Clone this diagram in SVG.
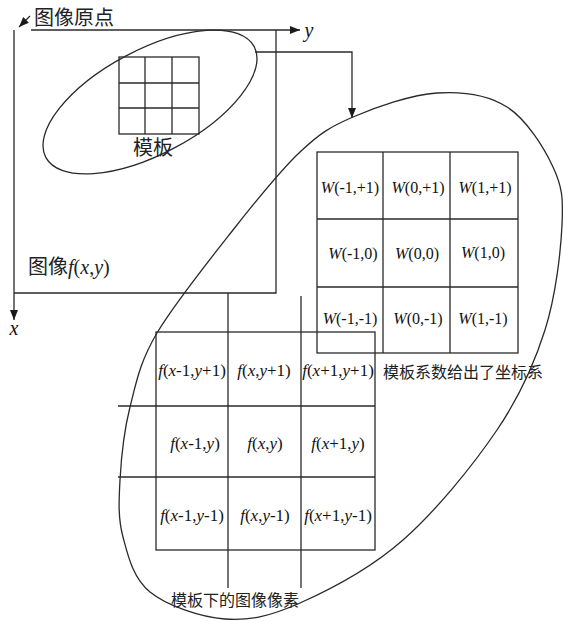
<svg xmlns="http://www.w3.org/2000/svg" width="563" height="622" viewBox="0 0 563 622">
<style>
.ln{fill:none;stroke:#2a2a2a;stroke-width:1.3}
.cn{font-family:"Noto Sans CJK SC","Noto Sans",sans-serif;fill:#222}
.m{font-family:"Liberation Serif","Times New Roman",serif;font-size:16px;fill:#111;text-anchor:middle}
.f{font-family:"Liberation Serif","Times New Roman",serif;font-size:17px;fill:#111;text-anchor:middle}
.i{font-style:italic}
</style>
<defs>
<marker id="ah" viewBox="0 0 10 10" refX="10" refY="5" markerWidth="10" markerHeight="10" markerUnits="userSpaceOnUse" orient="auto">
<path d="M0,1 L10,5 L0,9 Z" fill="#1a1a1a"/>
</marker>
</defs>
<rect width="563" height="622" fill="#fff"/>

<g id="image">
<line class="ln" x1="31" y1="30" x2="300" y2="30" marker-end="url(#ah)"/>
<line class="ln" x1="14" y1="30" x2="14" y2="320" marker-end="url(#ah)"/>
<polyline class="ln" points="276,30 276,293 14,293"/>
<line class="ln" x1="30" y1="16" x2="19" y2="27" marker-end="url(#ah)"/>
<text class="cn" x="34" y="25" font-size="20">图像原点</text>
<text class="m i" x="309" y="37" font-size="20" style="font-size:20px">y</text>
<text class="m i" x="14" y="335" style="font-size:20px">x</text>
<text class="cn" x="28" y="274" font-size="20">图像<tspan font-family="Liberation Serif,serif" font-style="italic">f</tspan><tspan font-family="Liberation Serif,serif">(</tspan><tspan font-family="Liberation Serif,serif" font-style="italic">x</tspan><tspan font-family="Liberation Serif,serif">,</tspan><tspan font-family="Liberation Serif,serif" font-style="italic">y</tspan><tspan font-family="Liberation Serif,serif">)</tspan></text>
</g>

<g id="template">
<ellipse class="ln" cx="150" cy="102" rx="118" ry="52" transform="rotate(-28 150 102)"/>
<rect class="ln" x="119" y="57" width="80" height="77"/>
<line class="ln" x1="145" y1="57" x2="145" y2="134"/>
<line class="ln" x1="172" y1="57" x2="172" y2="134"/>
<line class="ln" x1="119" y1="83" x2="199" y2="83"/>
<line class="ln" x1="119" y1="108" x2="199" y2="108"/>
<text class="cn" x="153" y="155" font-size="20" text-anchor="middle">模板</text>
</g>

<g id="connectors">
<polyline class="ln" points="255,52 352,52 352,118" marker-end="url(#ah)"/>
</g>

<g id="zoom-ellipse">
<path class="ln" d="M437,93 C462.7,91.3 487.7,94.7 507,107 C526.3,119.3 543.8,147.3 553,167 C562.2,186.7 563.3,197.8 562,225 C560.7,252.2 555.8,295.8 545,330 C534.2,364.2 520.7,395 497,430 C473.3,465 435.8,511.2 403,540 C370.2,568.8 329.7,589.8 300,603 C270.3,616.2 250,620.8 225,619 C200,617.2 167,605.7 150,592 C133,578.3 128,555.7 123,537 C118,518.3 118.8,501.7 120,480 C121.2,458.3 123.8,431.5 130,407 C136.2,382.5 139.8,362 157,333 C174.2,304 209.2,260.2 233,230 C256.8,199.8 280,170.8 300,152 C320,133.2 330.2,126.8 353,117 C375.8,107.2 411.3,94.7 437,93 Z"/>
</g>

<g id="pixels">
<line class="ln" x1="228" y1="293" x2="228" y2="588"/>
<line class="ln" x1="301" y1="296" x2="301" y2="588"/>
<line class="ln" x1="118" y1="406" x2="375" y2="406"/>
<line class="ln" x1="118" y1="477" x2="375" y2="477"/>
<rect class="ln" x="156" y="332" width="219" height="218"/>
<text class="f" x="192" y="376"><tspan class="i">f</tspan>(<tspan class="i">x</tspan>-1,<tspan class="i">y</tspan>+1)</text>
<text class="f" x="264" y="376"><tspan class="i">f</tspan>(<tspan class="i">x</tspan>,<tspan class="i">y</tspan>+1)</text>
<text class="f" x="338" y="376"><tspan class="i">f</tspan>(<tspan class="i">x</tspan>+1,<tspan class="i">y</tspan>+1)</text>
<text class="f" x="195" y="449"><tspan class="i">f</tspan>(<tspan class="i">x</tspan>-1,<tspan class="i">y</tspan>)</text>
<text class="f" x="265" y="449"><tspan class="i">f</tspan>(<tspan class="i">x</tspan>,<tspan class="i">y</tspan>)</text>
<text class="f" x="338" y="449"><tspan class="i">f</tspan>(<tspan class="i">x</tspan>+1,<tspan class="i">y</tspan>)</text>
<text class="f" x="192" y="521"><tspan class="i">f</tspan>(<tspan class="i">x</tspan>-1,<tspan class="i">y</tspan>-1)</text>
<text class="f" x="265" y="521"><tspan class="i">f</tspan>(<tspan class="i">x</tspan>,<tspan class="i">y</tspan>-1)</text>
<text class="f" x="338" y="521"><tspan class="i">f</tspan>(<tspan class="i">x</tspan>+1,<tspan class="i">y</tspan>-1)</text>
<text class="cn" x="235" y="606" font-size="16" text-anchor="middle" fill="#333">模板下的图像像素</text>
</g>

<g id="weights">
<rect class="ln" x="317" y="152" width="201" height="201"/>
<line class="ln" x1="383" y1="152" x2="383" y2="353"/>
<line class="ln" x1="450" y1="152" x2="450" y2="353"/>
<line class="ln" x1="317" y1="219" x2="518" y2="219"/>
<line class="ln" x1="317" y1="287" x2="518" y2="287"/>
<text class="m" x="350" y="193"><tspan class="i">W</tspan>(-1,+1)</text>
<text class="m" x="418" y="193"><tspan class="i">W</tspan>(0,+1)</text>
<text class="m" x="485" y="193"><tspan class="i">W</tspan>(1,+1)</text>
<text class="m" x="353" y="259"><tspan class="i">W</tspan>(-1,0)</text>
<text class="m" x="417" y="259"><tspan class="i">W</tspan>(0,0)</text>
<text class="m" x="483" y="258"><tspan class="i">W</tspan>(1,0)</text>
<text class="m" x="350" y="324"><tspan class="i">W</tspan>(-1,-1)</text>
<text class="m" x="418" y="324"><tspan class="i">W</tspan>(0,-1)</text>
<text class="m" x="483" y="324"><tspan class="i">W</tspan>(1,-1)</text>
<text class="cn" x="383" y="378" font-size="16" fill="#333">模板系数给出了坐标系</text>
</g>
</svg>
